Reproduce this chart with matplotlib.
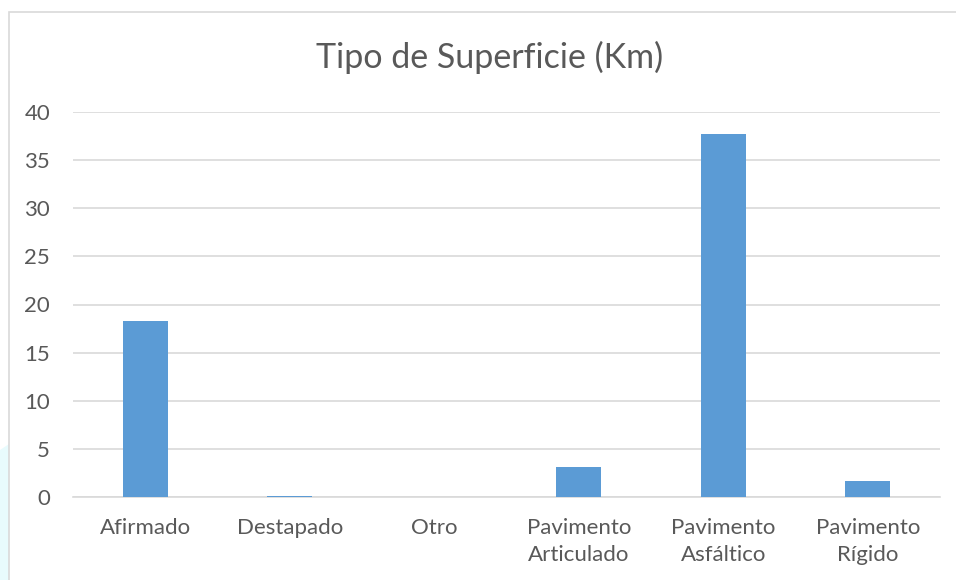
import matplotlib
matplotlib.use("Agg")
import matplotlib.pyplot as plt
from matplotlib.patches import Rectangle, Polygon

# ── Data ────────────────────────────────────────────────────────────────────
categories = ["Afirmado", "Destapado", "Otro", "Pavimento\nArticulado",
              "Pavimento\nAsfáltico", "Pavimento\nRígido"]
km_values = [18.3, 0.1, 0.0, 3.1, 37.7, 1.65]
y_ticks = [0, 5, 10, 15, 20, 25, 30, 35, 40]

TEXT = "#595959"
GRID = "#d9d9d9"
BAR = "#5b9bd5"

plt.rcParams["font.family"] = ["Lato", "DejaVu Sans"]

fig = plt.figure(figsize=(9.56, 5.8), dpi=100)
W, H = 956, 580

# faint cyan decoration at lower left
fig.patches.append(Polygon([(0, 0), (0, 130 / H), (30 / W, 150 / H), (30 / W, 0)],
                           closed=True, transform=fig.transFigure,
                           facecolor="#e8fbfd", edgecolor="none", zorder=0))
# chart frame
fig.patches.append(Rectangle((9 / W, -0.02), 1.0, (580 - 12) / H + 0.02,
                             transform=fig.transFigure, facecolor="white",
                             edgecolor=GRID, linewidth=1.2, zorder=1))

ax = fig.add_axes([73 / W, 1 - 497 / H, (940 - 73) / W, (497 - 112) / H])
ax.set_zorder(2)
ax.patch.set_alpha(0)

x = range(len(categories))
ax.bar(x, km_values, width=0.31, color=BAR, zorder=3)

ax.set_xlim(-0.5, len(categories) - 0.5)
ax.set_ylim(0, 40)
ax.set_yticks(y_ticks)
ax.set_xticks(list(x))
ax.set_xticklabels(categories, fontsize=16, color=TEXT, linespacing=1.45)
ax.tick_params(axis="y", labelsize=16, labelcolor=TEXT, length=0, pad=16.5)
ax.tick_params(axis="x", length=0, pad=15)

ax.grid(axis="y", color=GRID, linewidth=1.2, zorder=0)
for side in ["top", "right", "left"]:
    ax.spines[side].set_visible(False)
ax.spines["bottom"].set_color(GRID)
ax.spines["bottom"].set_linewidth(1.2)

fig.text(490 / W, 1 - 57 / H, "Tipo de Superficie (Km)", fontsize=24.5,
         color=TEXT, ha="center", va="center")

fig.savefig("out.png", dpi=100)
